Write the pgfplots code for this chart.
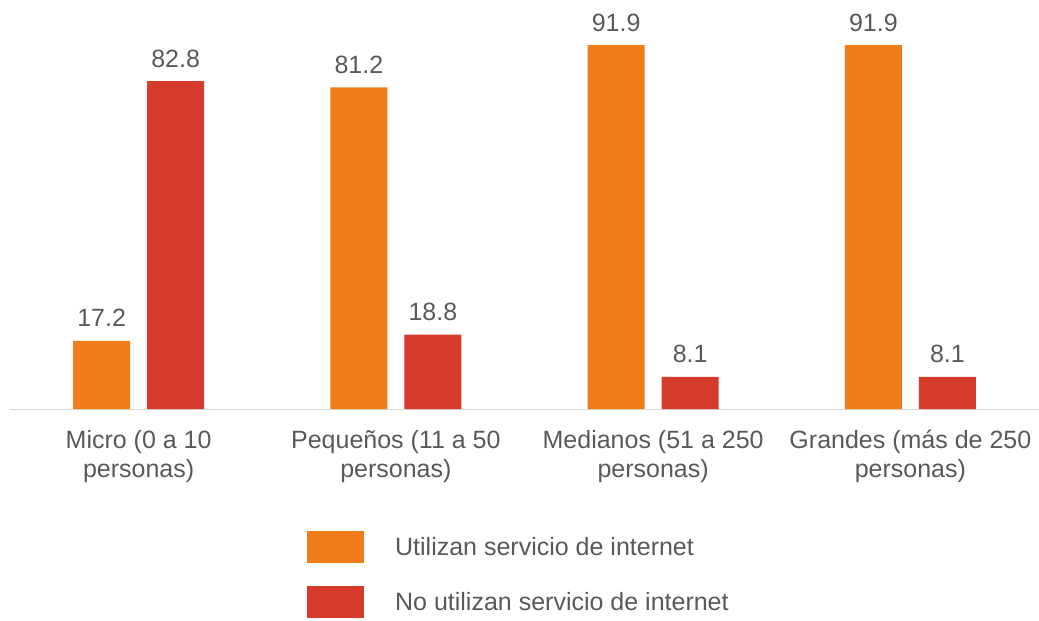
\documentclass[border=0pt]{standalone}
\usepackage{pgfplots}
\pgfplotsset{compat=1.18}
\usepackage{fontspec}
\setmainfont{Liberation Sans}
\definecolor{corange}{HTML}{F07C1A}
\definecolor{cred}{HTML}{D63A2B}
\definecolor{ctext}{HTML}{595959}
\begin{document}
\begin{tikzpicture}
\useasboundingbox (-10pt,-212pt) rectangle (1029pt,409pt);
\begin{axis}[
  at={(0pt,0pt)}, anchor=south west,
  scale only axis,
  width=1029pt, height=396pt,
  ymin=0, ymax=100,
  xmin=-0.5, xmax=3.5,
  ybar=17pt, bar width=57pt,
  axis y line=none,
  axis x line*=bottom,
  x axis line style={draw=black!15, line width=1pt, -},
  xtick=data,
  xtick style={draw=none},
  xticklabels={{Micro (0 a 10\\personas)},{Pequeños (11 a 50\\personas)},{Medianos (51 a 250\\personas)},{Grandes (más de 250\\personas)}},
  xticklabel style={align=center, font=\fontsize{25}{29}\selectfont, text=ctext, inner sep=0pt, yshift=-17pt},
  /pgf/number format/assume math mode=true,
  /pgf/number format/fixed, /pgf/number format/precision=1, /pgf/number format/fixed zerofill,
  nodes near coords,
  every node near coord/.append style={font=\fontsize{25}{29}\selectfont, text=ctext, anchor=base, inner sep=0pt, yshift=14pt},
  legend style={draw=none, at={(0.2886,-0.308)}, anchor=north west, inner sep=0pt,
    nodes={inner sep=0pt, font=\fontsize{25}{29}\selectfont, text=ctext},
    row sep=23pt,
    /tikz/every odd column/.append style={column sep=31pt}},
  legend cell align=left,
  legend image code/.code={\fill[#1] (0pt,-16pt) rectangle (57pt,16pt);},
]
\addplot[fill=corange, draw=none] coordinates {(0,17.2) (1,81.2) (2,91.9) (3,91.9)};
\addplot[fill=cred, draw=none] coordinates {(0,82.8) (1,18.8) (2,8.1) (3,8.1)};
\legend{Utilizan servicio de internet, No utilizan servicio de internet}
\end{axis}
\end{tikzpicture}
\end{document}
